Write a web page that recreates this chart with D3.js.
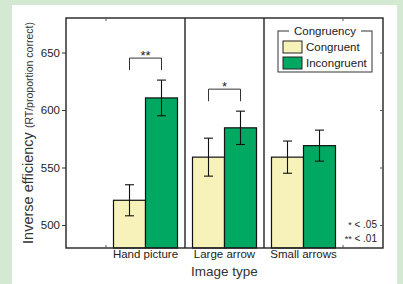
<!DOCTYPE html>
<html>
<head>
<meta charset="utf-8">
<script src="https://cdn.jsdelivr.net/npm/d3@7"></script>
<style>
  body { margin: 0; background: #d4e9d1; }
  svg { display: block; font-family: "Liberation Sans", Arial, sans-serif; }
</style>
</head>
<body>
<div id="chart"></div>
<script>
// data
const categories = ["Hand picture", "Large arrow", "Small arrows"];
const series = ["Congruent", "Incongruent"];
const congruentMean = [521.5, 559, 559];
const incongruentMean = [610.5, 584.5, 569];
const congruentErr = [13.5, 16.5, 14];
const incongruentErr = [15.5, 14.5, 13.5];
const yTicks = [500, 550, 600, 650];
const significance = [{cat: "Hand picture", label: "**"}, {cat: "Large arrow", label: "*"}];

const W = 403, H = 284;
const margin = {top: 18, right: 20, bottom: 36, left: 66};
const plotW = W - margin.left - margin.right;   // 317
const plotH = H - margin.top - margin.bottom;   // 230

const svg = d3.select("#chart")
  .append("svg")
    .attr("width", W)
    .attr("height", H);

// white panel on green page
svg.append("rect")
  .attr("x", 12).attr("y", 5)
  .attr("width", 385).attr("height", H - 5)
  .attr("fill", "#fff");

const g = svg.append("g")
  .attr("transform", `translate(${margin.left},${margin.top})`);

// scales
const xScale = d3.scaleBand()
  .domain(categories)
  .range([40, plotW - 40])
  .padding(0);
const xSub = d3.scaleBand()
  .domain(series)
  .range([7.5, xScale.bandwidth() - 7.5])
  .padding(0);
const yScale = d3.scaleLinear()
  .domain([480, 680])
  .range([plotH, 0]);
const color = d3.scaleOrdinal()
  .domain(series)
  .range(["#f7f2b9", "#00a862"]);

const rows = categories.map((c, i) => ({
  cat: c,
  vals: [
    {s: series[0], v: congruentMean[i], e: congruentErr[i]},
    {s: series[1], v: incongruentMean[i], e: incongruentErr[i]}
  ]
}));

// bars
const groups = g.append("g")
  .selectAll("g")
  .data(rows)
  .join("g")
    .attr("transform", d => `translate(${xScale(d.cat)},0)`);

groups.selectAll("rect")
  .data(d => d.vals)
  .join("rect")
    .attr("x", d => xSub(d.s))
    .attr("y", d => yScale(d.v))
    .attr("width", xSub.bandwidth())
    .attr("height", d => plotH - yScale(d.v))
    .attr("fill", d => color(d.s))
    .attr("stroke", "#111")
    .attr("stroke-width", 1.2);

// error bars
const eb = groups.selectAll("g.err")
  .data(d => d.vals)
  .join("g")
    .attr("class", "err")
    .attr("transform", d => `translate(${xSub(d.s) + xSub.bandwidth() / 2},0)`)
    .attr("stroke", "#111")
    .attr("stroke-width", 1.1);
eb.append("line")
  .attr("y1", d => yScale(d.v + d.e))
  .attr("y2", d => yScale(d.v - d.e));
eb.append("line")
  .attr("x1", -4.5).attr("x2", 4.5)
  .attr("y1", d => yScale(d.v + d.e)).attr("y2", d => yScale(d.v + d.e));
eb.append("line")
  .attr("x1", -4.5).attr("x2", 4.5)
  .attr("y1", d => yScale(d.v - d.e)).attr("y2", d => yScale(d.v - d.e));

// group separators
g.append("g")
  .selectAll("line")
  .data(categories.slice(1))
  .join("line")
    .attr("x1", d => xScale(d)).attr("x2", d => xScale(d))
    .attr("y1", 0).attr("y2", plotH)
    .attr("stroke", "#222")
    .attr("stroke-width", 1.4);

// significance brackets
const bracketY = d => {
  const i = categories.indexOf(d.cat);
  return yScale(d3.max(rows[i].vals, v => v.v + v.e)) - 22;
};
const sig = g.append("g")
  .selectAll("g")
  .data(significance)
  .join("g")
    .attr("transform", d => `translate(${xScale(d.cat)},0)`);
sig.append("path")
  .attr("fill", "none")
  .attr("stroke", "#333")
  .attr("stroke-width", 1)
  .attr("d", d => {
    const yb = bracketY(d), yl = yb + 12;
    const x1 = xSub(series[0]) + xSub.bandwidth() / 2;
    const x2 = xSub(series[1]) + xSub.bandwidth() / 2;
    return `M${x1},${yl}V${yb}H${x2}V${yl}`;
  });
sig.append("text")
  .attr("x", xScale.bandwidth() / 2)
  .attr("y", d => bracketY(d) + 2)
  .attr("text-anchor", "middle")
  .attr("font-size", 13)
  .attr("fill", "#222")
  .text(d => d.label);

// frame
g.append("rect")
  .attr("width", plotW).attr("height", plotH)
  .attr("fill", "none")
  .attr("stroke", "#222")
  .attr("stroke-width", 1.4);

// y axis (left, outward ticks)
g.append("g")
  .call(d3.axisLeft(yScale).tickValues(yTicks).tickSize(4).tickPadding(2))
  .call(a => a.select(".domain").remove())
  .call(a => a.selectAll("line").attr("stroke", "#333"))
  .call(a => a.selectAll("text")
    .attr("font-size", 11.5)
    .attr("fill", "#222")
    .attr("font-family", "Liberation Sans, Arial, sans-serif"));

// right inward ticks
g.append("g")
  .attr("transform", `translate(${plotW},0)`)
  .call(d3.axisRight(yScale).tickValues(yTicks).tickSize(-3).tickFormat(""))
  .call(a => a.select(".domain").remove())
  .call(a => a.selectAll("line").attr("stroke", "#555"));

// small ticks at the outer band edges, top and bottom
const edges = [xScale.range()[0], xScale.range()[1]];
g.append("g")
  .selectAll("line")
  .data(edges.flatMap(x => [[x, 0, 3], [x, plotH, plotH - 3]]))
  .join("line")
    .attr("x1", d => d[0]).attr("x2", d => d[0])
    .attr("y1", d => d[1]).attr("y2", d => d[2])
    .attr("stroke", "#555");

// x axis labels
g.append("g")
  .attr("transform", `translate(0,${plotH})`)
  .call(d3.axisBottom(xScale).tickSize(0).tickPadding(2))
  .call(a => a.select(".domain").remove())
  .call(a => a.selectAll("text")
    .attr("font-size", 11.5)
    .attr("fill", "#222")
    .attr("font-family", "Liberation Sans, Arial, sans-serif"));

// axis titles
g.append("text")
  .attr("x", plotW / 2)
  .attr("y", plotH + 28)
  .attr("text-anchor", "middle")
  .attr("font-size", 13.5)
  .attr("fill", "#333")
  .text("Image type");

const ylab = g.append("text")
  .attr("transform", `translate(${33 - margin.left},${plotH / 2}) rotate(-90)`)
  .attr("text-anchor", "middle")
  .attr("fill", "#333");
ylab.append("tspan").attr("font-size", 14.5).text("Inverse efficiency ");
ylab.append("tspan").attr("font-size", 10.5).text("(RT/proportion correct)");

// p-value note
const note = g.append("g")
  .attr("text-anchor", "end")
  .attr("font-size", 10)
  .attr("fill", "#222");
const n1 = note.append("text").attr("x", plotW - 6).attr("y", yScale(500) + 3);
n1.append("tspan").attr("font-size", 9).text("*");
n1.append("tspan").text(" < .05");
const n2 = note.append("text").attr("x", plotW - 6).attr("y", yScale(500) + 17);
n2.append("tspan").attr("font-size", 9).text("**");
n2.append("tspan").text(" < .01");

// legend
const lg = svg.append("g").attr("transform", "translate(278,31)");
lg.append("rect")
  .attr("width", 94).attr("height", 41)
  .attr("fill", "#fff")
  .attr("stroke", "#333")
  .attr("stroke-width", 1);
lg.append("rect")
  .attr("x", 11).attr("y", -6)
  .attr("width", 72).attr("height", 12)
  .attr("fill", "#fff");
lg.append("text")
  .attr("x", 47).attr("y", 4)
  .attr("text-anchor", "middle")
  .attr("font-size", 11.5)
  .attr("fill", "#222")
  .text("Congruency");
const li = lg.selectAll("g.item")
  .data(series)
  .join("g")
    .attr("class", "item")
    .attr("transform", (d, i) => `translate(5,${10 + i * 16})`);
li.append("rect")
  .attr("width", 19).attr("height", 12)
  .attr("fill", d => color(d))
  .attr("stroke", "#222")
  .attr("stroke-width", 1);
li.append("text")
  .attr("x", 23).attr("y", 10)
  .attr("font-size", 11.5)
  .attr("fill", "#222")
  .text(d => d);
</script>
</body>
</html>
